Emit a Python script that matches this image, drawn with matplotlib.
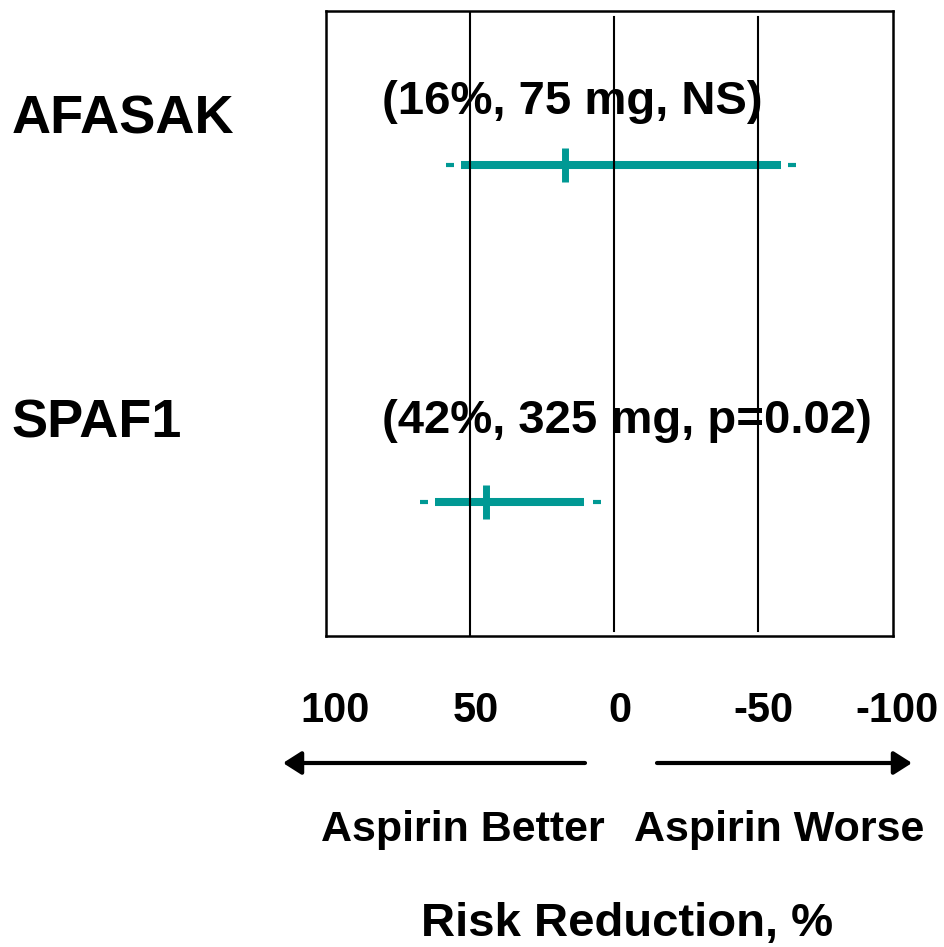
import numpy as np
import matplotlib
matplotlib.use("Agg")
import matplotlib.pyplot as plt

plt.rcParams['font.family'] = ['Liberation Sans', 'DejaVu Sans']
plt.rcParams['font.weight'] = 'bold'

# data (risk reduction, %)
trials = ["AFASAK", "SPAF1"]
notes = ["(16%, 75 mg, NS)", "(42%, 325 mg, p=0.02)"]
point = [17.0, 44.5]
ci_low = [53.0, 62.0]
ci_high = [-58.0, 10.5]
outer_low = [57.0, 66.0]
outer_high = [-62.0, 6.0]
ref_lines = [50, 0, -50]
tick_vals = [100, 50, 0, -50, -100]
tick_labels = ["100", "50", "0", "-50", "-100"]

teal = "#009994"
W, H = 945, 947

def fx(px):
    return px / W

def fy(py):
    return 1 - py / H

fig = plt.figure(figsize=(9.45, 9.47), dpi=100)
ax = fig.add_axes([fx(326), fy(636), fx(893) - fx(326), fy(11) - fy(636)])
ax.set_xlim(100, -97)
ax.set_ylim(1.398, -0.457)
ax.set_xticks([])
ax.set_yticks([])
for s in ax.spines.values():
    s.set_linewidth(1.8)

rows = np.arange(len(trials))

# confidence intervals
ax.hlines(rows, ci_low, ci_high, color=teal, lw=5.8, capstyle='butt', zorder=3)
ax.plot(point, rows, ls='none', marker='|', ms=25, mew=5, color=teal, zorder=3)
ax.plot(outer_low, rows, ls='none', marker='_', ms=6, mew=3, color=teal, zorder=3)
ax.plot(outer_high, rows, ls='none', marker='_', ms=6, mew=3, color=teal, zorder=3)

# reference lines, drawn over everything
for v, (lo, hi) in zip(ref_lines, [(0, 1), (0.008, 0.99), (0.008, 0.99)]):
    ax.axvline(v, ymin=lo, ymax=hi, color='black', lw=1.5, zorder=6)

# trial names and notes
name_y = [134, 437]
note_y = [114, 433]
for name, note, ny, ty in zip(trials, notes, name_y, note_y):
    fig.text(fx(12), fy(ny), name, fontsize=39, fontweight='bold', va='baseline', ha='left')
    ax.text(fx(382), fy(ty), note, fontsize=34, fontweight='bold', va='baseline', ha='left',
            transform=fig.transFigure, clip_on=False, zorder=1)

# x tick labels below the box
tr = matplotlib.transforms.blended_transform_factory(ax.transData, fig.transFigure)
for v, lab, dx in zip(tick_vals, tick_labels, [9, 6, 6, 6, -5]):
    off = matplotlib.transforms.offset_copy(tr, fig=fig, x=dx, y=0, units='dots')
    ax.text(v, fy(722), lab, transform=off, fontsize=30, fontweight='bold',
            ha='center', va='baseline', clip_on=False)

# direction arrows
astyle = dict(arrowstyle='-|>,head_length=0.55,head_width=0.35', lw=3, color='black',
              mutation_scale=20, shrinkA=0, shrinkB=0)
fig.add_artist(matplotlib.patches.FancyArrowPatch((fx(585), fy(763)), (fx(283), fy(763)),
                                                  transform=fig.transFigure, **astyle))
fig.add_artist(matplotlib.patches.FancyArrowPatch((fx(657), fy(763)), (fx(912), fy(763)),
                                                  transform=fig.transFigure, **astyle))

fig.text(fx(463), fy(841), "Aspirin Better", fontsize=31, fontweight='bold', ha='center', va='baseline')
fig.text(fx(779), fy(841), "Aspirin Worse", fontsize=31, fontweight='bold', ha='center', va='baseline')
fig.text(fx(627), fy(936), "Risk Reduction, %", fontsize=34, fontweight='bold', ha='center', va='baseline')

fig.savefig("out.png", dpi=100)
